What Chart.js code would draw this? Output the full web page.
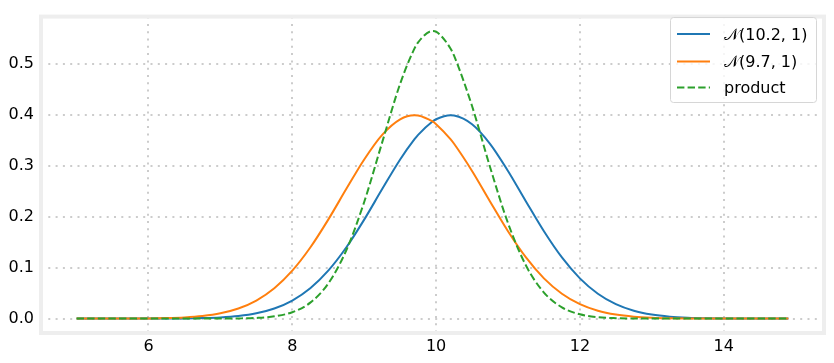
<!DOCTYPE html>
<html>
<head>
<meta charset="utf-8">
<script src="https://cdn.jsdelivr.net/npm/chart.js@4.4.1/dist/chart.umd.min.js"></script>
<style>
  html, body { margin: 0; padding: 0; background: #fff; }
  canvas { display: block; }
</style>
</head>
<body>
<canvas id="chart" width="834" height="363"></canvas>
<script>
// x positions of the samples
const xs = [5, 5.25, 5.5, 5.75, 6, 6.25, 6.5, 6.75, 7, 7.25, 7.5, 7.75, 8, 8.25, 8.5, 8.75, 9, 9.25, 9.5,
            9.7, 9.75, 9.95, 10, 10.2, 10.25,
            10.5, 10.75, 11, 11.25, 11.5, 11.75, 12, 12.25, 12.5, 12.75, 13, 13.25, 13.5, 13.75, 14, 14.25, 14.5, 14.75, 14.9];

const normA = [0, 0, 0, 0.00002, 0.00006, 0.00016, 0.00042, 0.00104, 0.00238, 0.00514, 0.01042, 0.01984, 0.03547, 0.05959, 0.09405, 0.13943, 0.19419, 0.25407, 0.31225,
               0.35207, 0.36053, 0.38667, 0.39104, 0.39894, 0.39844,
               0.38139, 0.34294, 0.28969, 0.22988, 0.17137, 0.12001, 0.07895, 0.04879, 0.02833, 0.01545, 0.00792, 0.00381, 0.00172, 0.00073, 0.00029, 0.00011, 0.00004, 0.00001, 0.00001];

const normB = [0.00001, 0.00002, 0.00006, 0.00016, 0.00042, 0.00104, 0.00238, 0.00514, 0.01042, 0.01984, 0.03547, 0.05959, 0.09405, 0.13943, 0.19419, 0.25407, 0.31225, 0.36053, 0.39104,
               0.39894, 0.39844, 0.38667, 0.38139, 0.35207, 0.34294,
               0.28969, 0.22988, 0.17137, 0.12001, 0.07895, 0.04879, 0.02833, 0.01545, 0.00792, 0.00381, 0.00172, 0.00073, 0.00029, 0.00011, 0.00004, 0.00001, 0, 0, 0];

const product = [0, 0, 0, 0, 0, 0, 0, 0.00002, 0.00009, 0.00038, 0.00139, 0.00446, 0.01259, 0.03136, 0.06890, 0.13367, 0.22882, 0.34564, 0.46077,
                 0.53001, 0.54207, 0.56419, 0.56278, 0.53001, 0.51563,
                 0.41692, 0.29749, 0.18733, 0.10410, 0.05104, 0.02209, 0.00844, 0.00284, 0.00085, 0.00022, 0.00005, 0.00001, 0, 0, 0, 0, 0, 0, 0];

const labels = ['\u{1D4A9}(10.2, 1)', '\u{1D4A9}(9.7, 1)', 'product'];
const xTicks = [6, 8, 10, 12, 14];
const yTicks = [0, 0.1, 0.2, 0.3, 0.4, 0.5];

const FONT = '"DejaVu Sans", sans-serif';

function toPoints(ys) {
  return xs.map((x, i) => ({ x: x, y: ys[i] }));
}

// light frame around the plot area
const framePlugin = {
  id: 'frame',
  beforeDatasetsDraw(chart) {
    const a = chart.chartArea;
    const c = chart.ctx;
    c.save();
    c.strokeStyle = '#eeeeee';
    c.lineWidth = 4;
    c.strokeRect(a.left, a.top, a.right - a.left, a.bottom - a.top);
    c.restore();
  }
};

// legend box in upper right, drawn inside the plot
const legendPlugin = {
  id: 'boxLegend',
  afterDatasetsDraw(chart) {
    const c = chart.ctx;
    const bx = 670, by = 17, bw = 146, bh = 85;
    c.save();
    c.beginPath();
    c.roundRect(bx + 0.5, by + 0.5, bw, bh, 3);
    c.fillStyle = 'rgba(255,255,255,0.8)';
    c.fill();
    c.strokeStyle = '#d6d6d6';
    c.lineWidth = 1;
    c.stroke();
    const rows = [34, 61.5, 87.5];
    chart.data.datasets.forEach((ds, i) => {
      const y = rows[i];
      c.beginPath();
      c.strokeStyle = ds.borderColor;
      c.lineWidth = ds.borderWidth;
      c.setLineDash(ds.borderDash || []);
      c.moveTo(677, y);
      c.lineTo(710, y);
      c.stroke();
      c.setLineDash([]);
      c.fillStyle = '#000';
      c.font = '16px ' + FONT;
      c.textBaseline = 'alphabetic';
      c.fillText(ds.label, 724, y + 5.5);
    });
    c.restore();
  }
};

new Chart(document.getElementById('chart'), {
  type: 'line',
  data: {
    datasets: [
      { label: labels[0], data: toPoints(normA), borderColor: '#1f77b4', borderWidth: 2, order: 3 },
      { label: labels[1], data: toPoints(normB), borderColor: '#ff7f0e', borderWidth: 2, order: 2 },
      { label: labels[2], data: toPoints(product), borderColor: '#2ca02c', borderWidth: 2, borderDash: [7.4, 3.2], order: 1 }
    ]
  },
  options: {
    responsive: false,
    devicePixelRatio: 1,
    animation: false,
    layout: { padding: { left: 0, top: 9, right: 10, bottom: 0 } },
    elements: {
      point: { radius: 0 },
      line: { cubicInterpolationMode: 'monotone', fill: false }
    },
    plugins: {
      legend: { display: false },
      tooltip: { enabled: false }
    },
    scales: {
      x: {
        type: 'linear',
        min: 4.505,
        max: 15.395,
        afterBuildTicks: (s) => { s.ticks = xTicks.map(v => ({ value: v })); },
        afterFit: (s) => { s.height = 30; },
        grid: { color: '#cccccc', lineWidth: 2, drawTicks: false },
        border: { display: false, dash: [2, 5.3] },
        ticks: { color: '#000', padding: 4, font: { family: FONT, size: 16 }, callback: v => String(v) }
      },
      y: {
        type: 'linear',
        min: -0.0282,
        max: 0.5924,
        afterBuildTicks: (s) => { s.ticks = yTicks.map(v => ({ value: v })); },
        afterFit: (s) => { s.width = 41; },
        grid: { color: '#cccccc', lineWidth: 2, drawTicks: false },
        border: { display: false, dash: [2, 5.3] },
        ticks: { color: '#000', padding: 7, font: { family: FONT, size: 16 }, callback: v => v.toFixed(1) }
      }
    }
  },
  plugins: [framePlugin, legendPlugin]
});
</script>
</body>
</html>
